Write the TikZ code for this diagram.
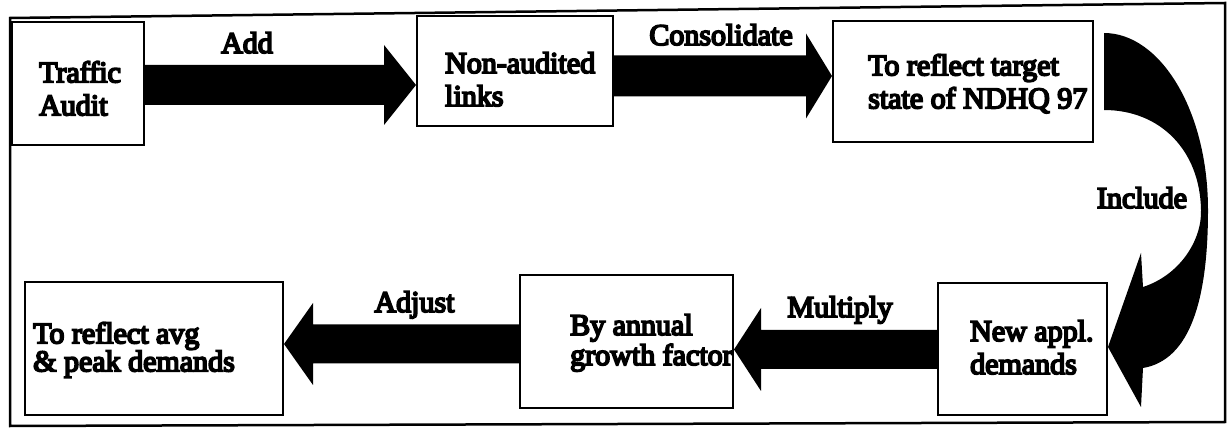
\documentclass[tikz,border=0pt]{standalone}
\usepackage{fontspec}
\newfontfamily\diagfont{Liberation Serif}[FakeBold=6]
\usetikzlibrary{calc}

% straight block arrow between two anchors at height #3 (picture units);
% #4 shaft half width, #5 head half width, #6 head length
\newcommand\blockarrow[6]{%
  \fill[arrowfill] let \p1=(#1), \p2=(#2), \n1={sign(\x2-\x1)} in
    (\x1,{(#4-(#3))*1pt}) -- ({\x2-\n1*(#6)*1pt},{(#4-(#3))*1pt})
    -- ({\x2-\n1*(#6)*1pt},{(#5-(#3))*1pt}) -- (\x2,{-(#3)*1pt})
    -- ({\x2-\n1*(#6)*1pt},{(-(#5)-(#3))*1pt}) -- ({\x2-\n1*(#6)*1pt},{(-(#4)-(#3))*1pt})
    -- (\x1,{(-(#4)-(#3))*1pt}) -- cycle;}

\tikzset{
  box/.style={draw, line width=2pt, inner sep=0pt},
  txt/.style={align=left, inner sep=0pt, anchor=north west,
    font=\diagfont\fontsize{30}{33}\selectfont},
  lbl/.style={inner sep=0pt, anchor=base, font=\diagfont\fontsize{30}{33}\selectfont},
  arrowfill/.style={fill=black},
  frame/.style={draw, line width=2.5pt, line join=miter}
}

\begin{document}
\begin{tikzpicture}[x=1pt,y=-1pt]
  \fill[white] (0,0) rectangle (1227,438);
  \useasboundingbox (0,0) rectangle (1227,438);

  % outer frame
  \draw[frame] (10,18) -- (1225,3) -- (1225,422) -- (10,426) -- cycle;

  % process boxes
  \node[box, minimum width=132, minimum height=123] (b1) at (78,83.5) {};
  \node[box, minimum width=196, minimum height=110] (b2) at (515,71) {};
  \node[box, minimum width=260, minimum height=121] (b3) at (963,81.5) {};
  \node[box, minimum width=169, minimum height=132] (b4) at (1022.5,349) {};
  \node[box, minimum width=213, minimum height=133] (b5) at (626.5,341.5) {};
  \node[box, minimum width=258, minimum height=133] (b6) at (154,348.5) {};

  % box texts
  \node[txt] (t1) at (39,61) {Traffic\\Audit};
  \node[txt] (t2) at (445,52) {Non-audited\\links};
  \node[txt] (t3) at (868,54) {To reflect target\\state of NDHQ 97};
  \node[txt] (t4) at (970,320) {New appl.\\demands};
  \node[txt, font=\diagfont\fontsize{30}{30}\selectfont] (t5) at (570,314) {By annual\\growth factor};
  \node[txt, font=\diagfont\fontsize{30}{28}\selectfont] (t6) at (33,322) {To reflect avg\\\& peak demands};

  % connectors
  \blockarrow{b1.east}{b2.west}{85}{20}{40}{32}
  \blockarrow{b2.east}{b3.west}{76}{20.5}{42.5}{26}
  \blockarrow{b4.west}{b5.east}{349.5}{19.5}{41.5}{27}
  \blockarrow{b5.west}{b6.east}{344}{19.5}{41}{29}

  % curved arrow from the top right box down to the bottom right box
  \fill[arrowfill]
    ($(b3.east)+(10,-48.5)$) .. controls (1160,33) and (1208,110) .. (1208,210)
    .. controls (1208,300) and (1190,360) .. ($(b4.east)+(35,19)$)
    -- ($(b4.east)+(33,58)$) -- ($(b4.east)+(0,-2)$) -- ($(b4.east)+(33,-96)$)
    -- ($(b4.east)+(35,-62)$)
    .. controls (1180,275) and (1202,240) .. (1201,210)
    .. controls (1200,150) and (1160,110) .. ($(b3.east)+(10,28.5)$) -- cycle;

  % connector labels
  \node[lbl] (l1) at (247,53) {Add};
  \node[lbl] (l2) at (721,45) {Consolidate};
  \node[lbl] (l3) at (1142,208) {Include};
  \node[lbl] (l4) at (840,317) {Multiply};
  \node[lbl] (l5) at (414.5,312) {Adjust};
\end{tikzpicture}
\end{document}
